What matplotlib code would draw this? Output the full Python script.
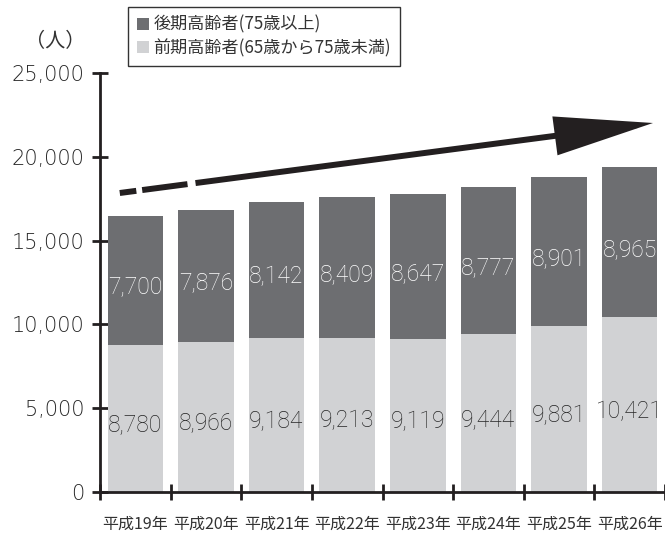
import matplotlib
matplotlib.use("Agg")
import matplotlib.pyplot as plt
from matplotlib.patches import FancyArrowPatch, Patch
import numpy as np

plt.rcParams['font.family'] = ['Noto Sans CJK JP', 'DejaVu Sans']

categories = ["平成19年", "平成20年", "平成21年", "平成22年", "平成23年", "平成24年", "平成25年", "平成26年"]
early = [8780, 8966, 9184, 9213, 9119, 9444, 9881, 10421]      # 前期高齢者
late = [7700, 7876, 8142, 8409, 8647, 8777, 8901, 8965]        # 後期高齢者
yticks = [0, 5000, 10000, 15000, 20000, 25000]
ytick_labels = ["0", "5,000", "10,000", "15,000", "20,000", "25,000"]
legend_labels = ["後期高齢者(75歳以上)", "前期高齢者(65歳から75歳未満)"]

dark = "#6d6e71"
light = "#d1d2d4"
ink = "#231f20"

fig = plt.figure(figsize=(6.65, 5.4), dpi=100)
ax = fig.add_axes([100 / 665, 48 / 540, 565 / 665, (492 - 73) / 540])

x = np.arange(len(categories))
ax.bar(x, early, width=0.785, color=light, zorder=2)
ax.bar(x, late, bottom=early, width=0.785, color=dark, zorder=2)

num_font = dict(family=['Roboto', 'DejaVu Sans'], fontsize=16.5, fontweight='light')
for xi, e, l in zip(x, early, late):
    ax.text(xi, e * 0.46, f"{e:,}", ha='center', va='center', color='#262626', **num_font)
    ax.text(xi, e + l * 0.45, f"{l:,}", ha='center', va='center', color='white', **num_font)

ax.set_xlim(-0.5, 7.46)
ax.set_ylim(0, 25000)
ax.set_yticks(yticks)
ax.set_yticklabels(ytick_labels, family=['DejaVu Sans'], fontsize=15, fontweight='light', color='#262626')
ax.set_xticks(np.arange(-0.5, 8, 1))
ax.set_xticklabels([])
ax.set_xticks(x, minor=True)
ax.set_xticklabels(categories, minor=True, fontsize=11.5, color='#333333')
ax.tick_params(axis='x', which='minor', length=0, pad=17)
ax.tick_params(axis='x', which='major', direction='inout', length=11, width=2, color=ink)
ax.tick_params(axis='y', direction='inout', length=11, width=2, color=ink, pad=6)

for s in ['top', 'right']:
    ax.spines[s].set_visible(False)
for s in ['left', 'bottom']:
    ax.spines[s].set_linewidth(2)
    ax.spines[s].set_color(ink)

# trend arrow (decoration)
p0 = np.array([-0.22, 17840.0])
p1 = np.array([7.33, 22017.0])
def pt(t):
    return p0 + (p1 - p0) * t
for a, b in [(0.0, 0.031), (0.042, 0.127)]:
    q0, q1 = pt(a), pt(b)
    ax.plot([q0[0], q1[0]], [q0[1], q1[1]], color=ink, lw=4.3, solid_capstyle='butt', zorder=3, clip_on=False)
s0 = pt(0.142)
arr = FancyArrowPatch(tuple(s0), tuple(p1), arrowstyle="-|>,head_length=5.8,head_width=1.15",
                      mutation_scale=10, color=ink, lw=4.3, shrinkA=0, shrinkB=0,
                      joinstyle='miter', capstyle='butt', zorder=3, clip_on=False)
ax.add_patch(arr)

fig.text(55 / 665, 1 - 42 / 540, "（人）", ha='center', va='center', fontsize=14.5, color='#333333')

handles = [Patch(facecolor=dark, edgecolor='none'), Patch(facecolor=light, edgecolor='none')]
leg = fig.legend(handles, legend_labels, loc='upper left', bbox_to_anchor=(128 / 665, 1 - 7 / 540),
                 borderaxespad=0, fancybox=False, edgecolor='#333333', framealpha=1,
                 handlelength=0.75, handleheight=0.75, handletextpad=0.25, fontsize=12.3,
                 labelspacing=0.3, borderpad=0.5, labelcolor='#333333')
leg.get_frame().set_linewidth(1.0)

fig.savefig("out.png", dpi=100)
